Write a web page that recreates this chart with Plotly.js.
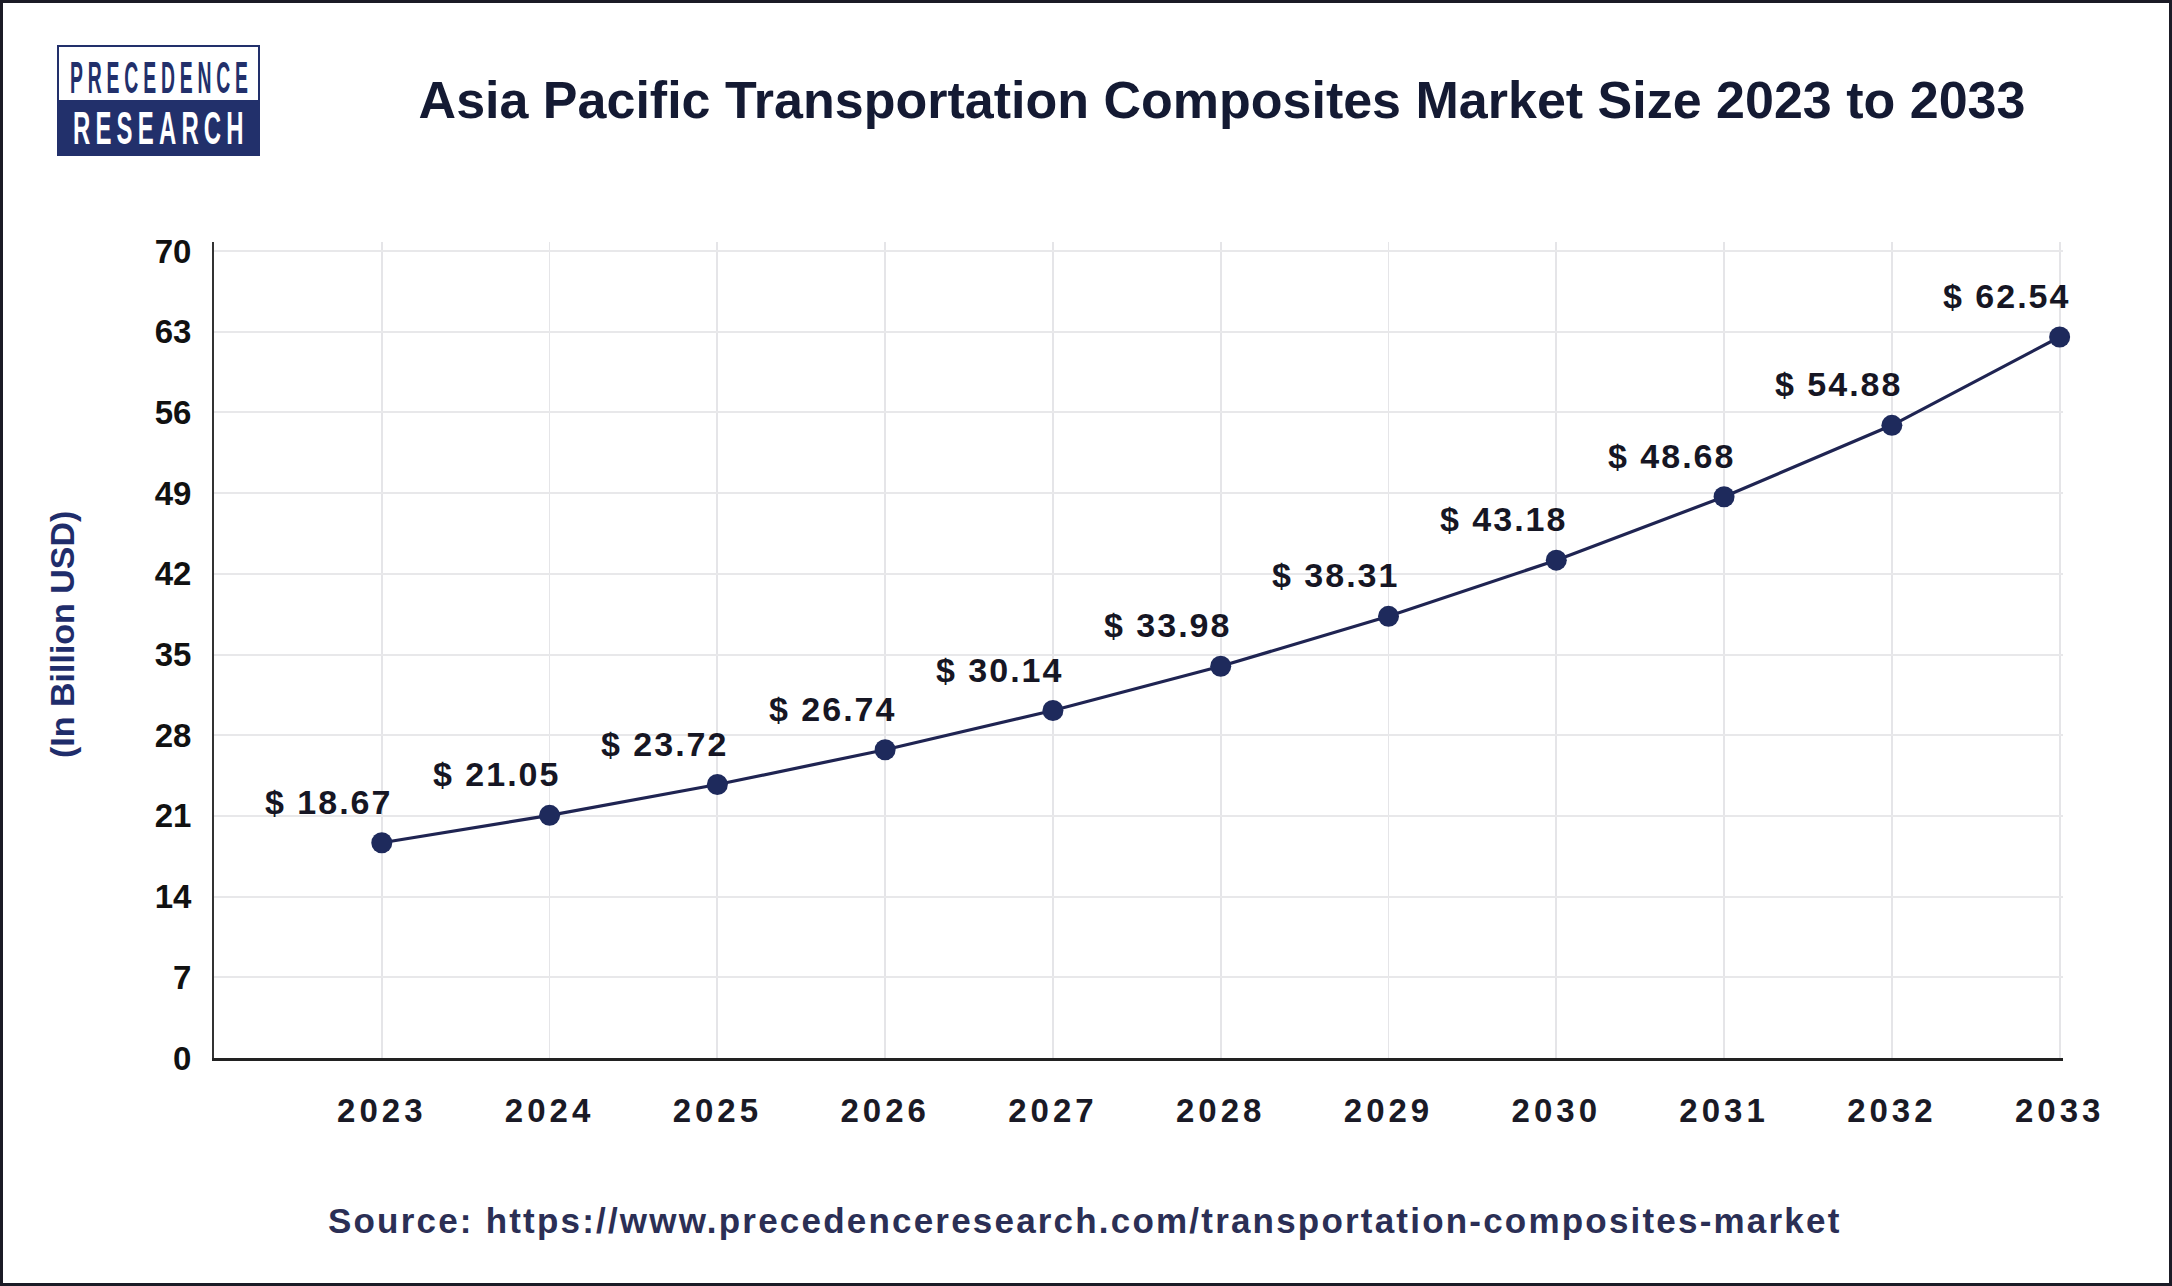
<!DOCTYPE html>
<html>
<head>
<meta charset="utf-8">
<script src="https://cdn.plot.ly/plotly-3.0.1.min.js"></script>
<style>
  html, body { margin: 0; padding: 0; background: #ffffff; }
  #chart { width: 2172px; height: 1286px; }
  text[data-unformatted^="$ "] { letter-spacing: 2px; }
  .xtick text { letter-spacing: 4px; }
  text[data-unformatted^="Source:"] { letter-spacing: 2.2px; }
  text[data-unformatted="PRECEDENCE"] { letter-spacing: 11px; transform-box: fill-box; transform-origin: center; transform: scaleX(0.44); }
  text[data-unformatted="RESEARCH"] { letter-spacing: 10px; transform-box: fill-box; transform-origin: center; transform: scaleX(0.52); }
</style>
</head>
<body>
<div id="chart"></div>
<script>
// ---- data ----
const years = [2023, 2024, 2025, 2026, 2027, 2028, 2029, 2030, 2031, 2032, 2033];
const marketSize = [18.67, 21.05, 23.72, 26.74, 30.14, 33.98, 38.31, 43.18, 48.68, 54.88, 62.54];
const valueLabels = ['$ 18.67', '$ 21.05', '$ 23.72', '$ 26.74', '$ 30.14', '$ 33.98', '$ 38.31', '$ 43.18', '$ 48.68', '$ 54.88', '$ 62.54'];
const yTickVals = [0, 7, 14, 21, 28, 35, 42, 49, 56, 63, 70];
const xTickLabels = ['2023', '2024', '2025', '2026', '2027', '2028', '2029', '2030', '2031', '2032', '2033'];
const titleText = 'Asia Pacific Transportation Composites Market Size 2023 to 2033';
const yTitleText = '(In Billion USD)';
const sourceText = 'Source: https://www.precedenceresearch.com/transportation-composites-market';

// ---- layout helpers (pixel -> paper) ----
const W = 2172, H = 1286;
const PL = 214, PR = 2063, PT = 242, PB = 1058;
const px = (x) => (x - PL) / (PR - PL);
const py = (y) => (PB - y) / (PB - PT);

const navy = '#1e2a5c';
const logoNavy = '#22306b';

const trace = {
  x: years,
  y: marketSize,
  type: 'scatter',
  mode: 'lines+markers',
  line: { color: '#1f2452', width: 3.2 },
  marker: { color: navy, size: 21 },
  cliponaxis: false,
  hoverinfo: 'skip'
};

const annotations = years.map((yr, i) => ({
  x: yr, y: marketSize[i], xref: 'x', yref: 'y',
  text: valueLabels[i], showarrow: false,
  xshift: -53, yshift: 41,
  xanchor: 'center', yanchor: 'middle',
  font: { family: 'Liberation Sans, Arial, sans-serif', size: 34, color: '#161624', weight: 'bold' }
}));

annotations.push({
  x: px(62), y: py(635), xref: 'paper', yref: 'paper',
  text: yTitleText, showarrow: false, textangle: -90,
  xanchor: 'center', yanchor: 'middle',
  font: { family: 'Liberation Sans, Arial, sans-serif', size: 34, color: '#1f2d6b', weight: 'bold' }
});

annotations.push({
  x: px(1085), y: py(1220), xref: 'paper', yref: 'paper',
  text: sourceText, showarrow: false,
  xanchor: 'center', yanchor: 'middle',
  font: { family: 'Liberation Sans, Arial, sans-serif', size: 35, color: '#2b2f55', weight: 'bold' }
});

// logo texts
annotations.push({
  x: px(161), y: py(77), xref: 'paper', yref: 'paper',
  text: 'PRECEDENCE', showarrow: false, xanchor: 'center', yanchor: 'middle',
  font: { family: 'Liberation Sans, Arial, sans-serif', size: 44, color: logoNavy, weight: 'bold' }
});
annotations.push({
  x: px(161), y: py(128), xref: 'paper', yref: 'paper',
  text: 'RESEARCH', showarrow: false, xanchor: 'center', yanchor: 'middle',
  font: { family: 'Liberation Sans, Arial, sans-serif', size: 46, color: '#ffffff', weight: 'bold' }
});

const shapes = [
  // outer frame
  { type: 'rect', xref: 'paper', yref: 'paper', x0: px(1.5), x1: px(2170.5), y0: py(1.5), y1: py(1284.5),
    line: { color: '#1b1b26', width: 3 }, fillcolor: 'rgba(0,0,0,0)', layer: 'above' },
  // logo top (white)
  { type: 'rect', xref: 'paper', yref: 'paper', x0: px(58), x1: px(259), y0: py(46), y1: py(101),
    line: { color: logoNavy, width: 2 }, fillcolor: '#ffffff', layer: 'below' },
  // logo bottom (navy)
  { type: 'rect', xref: 'paper', yref: 'paper', x0: px(58), x1: px(259), y0: py(101), y1: py(155),
    line: { color: logoNavy, width: 2 }, fillcolor: logoNavy, layer: 'below' }
];

const layout = {
  width: W, height: H,
  margin: { l: PL, r: W - PR, t: PT, b: H - PB, pad: 0 },
  paper_bgcolor: '#ffffff',
  plot_bgcolor: '#ffffff',
  showlegend: false,
  title: {
    text: titleText,
    x: 1222 / W, xref: 'container', xanchor: 'center',
    y: 1 - 100 / H, yref: 'container', yanchor: 'middle',
    font: { family: 'Liberation Sans, Arial, sans-serif', size: 52, color: '#141a33', weight: 'bold' }
  },
  xaxis: {
    range: [2022, 2033.02],
    tickmode: 'array', tickvals: years, ticktext: xTickLabels,
    showgrid: true, gridcolor: '#e5e5e8', gridwidth: 1.8,
    zeroline: false,
    showline: true, linecolor: '#222222', linewidth: 2.5,
    ticks: '', ticklabelstandoff: 22,
    tickfont: { family: 'Liberation Sans, Arial, sans-serif', size: 33, color: '#1a1a26', weight: 'bold' },
    fixedrange: true
  },
  yaxis: {
    range: [0, 70.78],
    tickmode: 'array', tickvals: yTickVals, ticktext: yTickVals.map(String),
    showgrid: true, gridcolor: '#e8e8ea', gridwidth: 2,
    zeroline: false,
    showline: true, linecolor: '#333333', linewidth: 2,
    ticks: '', ticklabelstandoff: 14,
    tickfont: { family: 'Liberation Sans, Arial, sans-serif', size: 33, color: '#111111', weight: 'bold' },
    fixedrange: true
  },
  annotations: annotations,
  shapes: shapes
};

Plotly.newPlot('chart', [trace], layout, { displayModeBar: false, staticPlot: true });
</script>
</body>
</html>
